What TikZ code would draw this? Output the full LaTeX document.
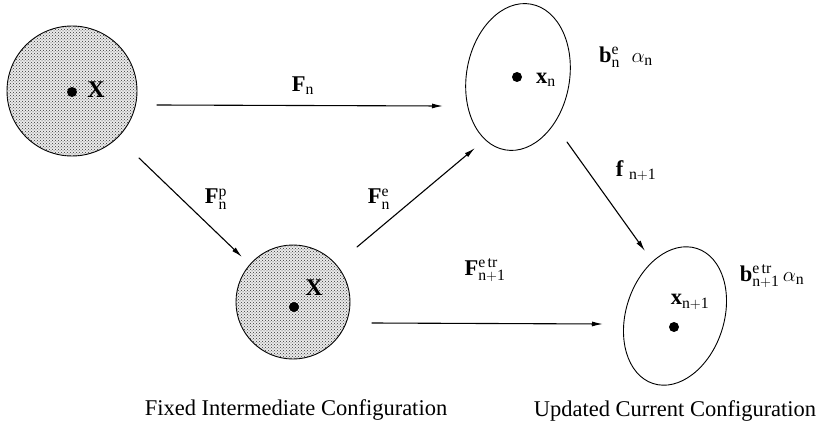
\documentclass[tikz,border=0pt]{standalone}
\usepackage{fontspec}
\setmainfont{Liberation Serif}
\usetikzlibrary{arrows.meta,calc,shapes.geometric,patterns}

\begin{document}
\begin{tikzpicture}[x=1pt,y=-1pt,>=Latex,line cap=round,line join=round,font=\fontsize{22.5}{26}\selectfont]
\useasboundingbox[fill=white] (0,0) rectangle (820,436);
\tikzset{body/.style={circle,draw,line width=0.9pt,fill=black!8,postaction={pattern=crosshatch dots,pattern color=black!80}},blob/.style={ellipse,draw,line width=0.9pt},pt/.style={circle,fill=black,inner sep=0pt,minimum size=10pt},arr/.style={draw,line width=1.1pt,-{Latex[length=11pt,width=5pt]}}}
% configurations
\node[body,minimum size=130pt] (ref) at (72,91) {}; \node[pt] (refpt) at (72,92) {}; \node[font=\bfseries\fontsize{24}{26}\selectfont] (refX) at (96,90) {X};
\node[blob,minimum width=103pt,minimum height=148pt,rotate=-10] (cur) at (518,77) {}; \node[pt] (curpt) at (517,77) {}; \node (curx) at (546,80) {$\mathbf{x}_{\mathrm{n}}$};
\node[body,minimum size=114pt] (mid) at (293,302) {}; \node[pt] (midpt) at (294,307) {}; \node[font=\bfseries\fontsize{24}{26}\selectfont] (midX) at (314,288) {X};
\node[blob,minimum width=98pt,minimum height=142pt,rotate=-18] (upd) at (675,316) {}; \node[pt] (updpt) at (674,327) {}; \node (updx) at (690,302) {$\mathbf{x}_{\mathrm{n+1}}$};
\node (curb) at (626,57) {$\mathbf{b}^{\mathrm{e}}_{\mathrm{n}}\;\;\alpha_{\mathrm{n}}$};
\node (updb) at (772,276) {$\mathbf{b}^{\mathrm{e\,tr}}_{\mathrm{n+1}}\,\alpha_{\mathrm{n}}$};
% maps
\draw[arr] ($(ref)+(85,14)$) -- ($(cur)+(-75,29)$); \node (lFn) at (303,86) {$\mathbf{F}_{\mathrm{n}}$};
\draw[arr] ($(ref)+(67,67)$) -- ($(mid)+(-51,-45)$); \node (lFp) at (216,199) {$\mathbf{F}^{\mathrm{p}}_{\mathrm{n}}$};
\draw[arr] ($(mid)+(64,-55)$) -- ($(cur)+(-43,71)$); \node (lFe) at (379,199) {$\mathbf{F}^{\mathrm{e}}_{\mathrm{n}}$};
\draw[arr] ($(cur)+(49,65)$) -- ($(upd)+(-30,-65)$); \node (lf) at (636,171) {$\mathbf{f}\;_{\mathrm{n+1}}$};
\draw[arr] ($(mid)+(79,21)$) -- ($(upd)+(-72,8)$); \node (lFtr) at (485,270) {$\mathbf{F}^{\mathrm{e\,tr}}_{\mathrm{n+1}}$};
% captions
\node (capmid) at (296,410) {Fixed Intermediate Configuration};
\node (capupd) at (675,411) {Updated Current Configuration};
\end{tikzpicture}
\end{document}
